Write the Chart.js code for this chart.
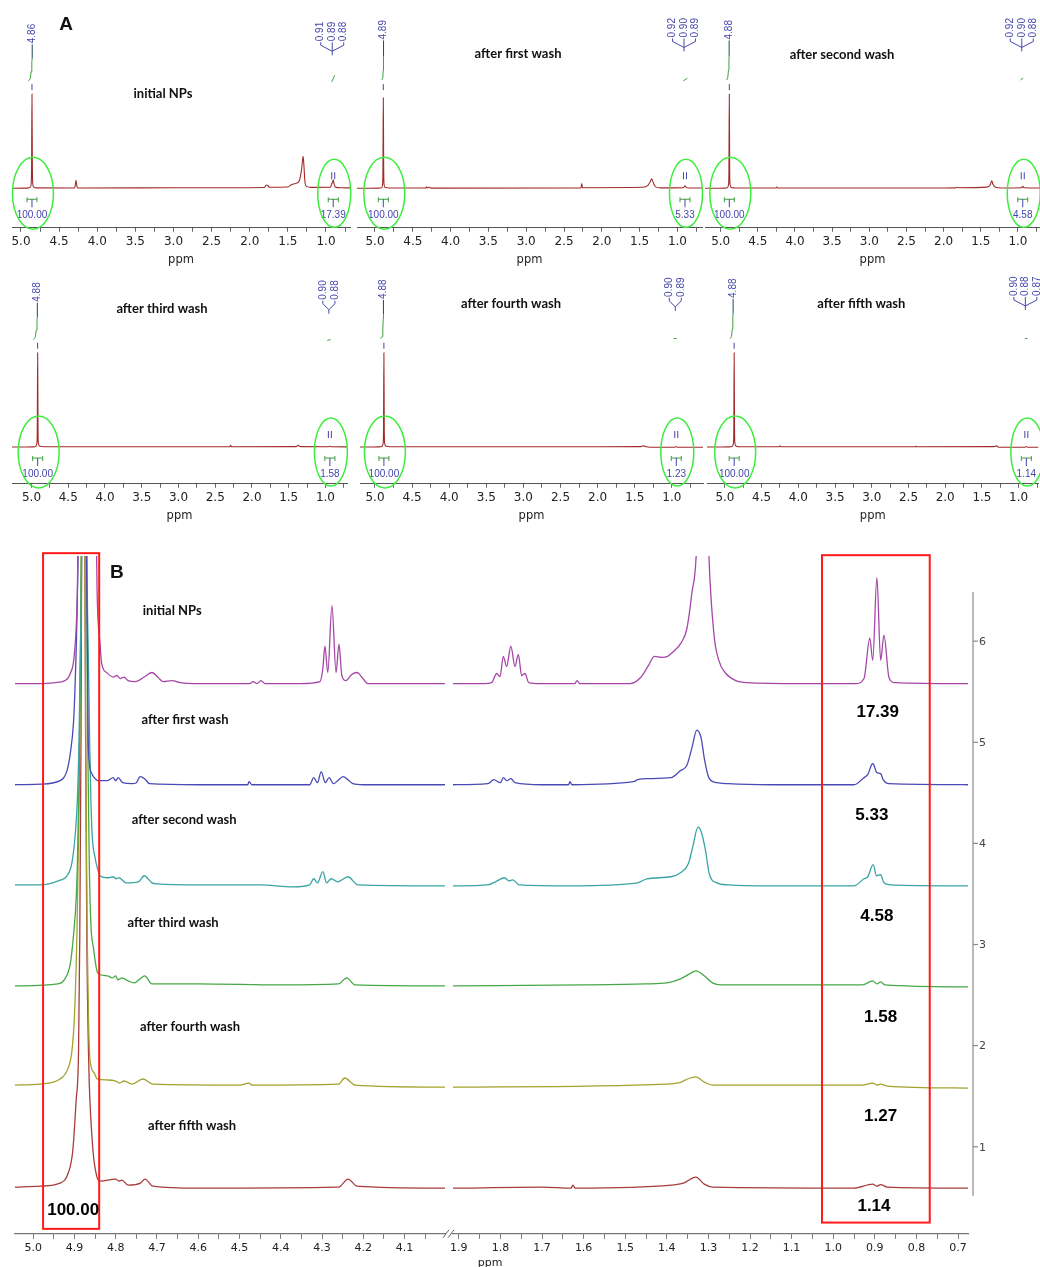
<!DOCTYPE html>
<html lang="en">
<head>
<meta charset="UTF-8">
<title>1H NMR of NPs after washing steps</title>
<script src="https://cdn.jsdelivr.net/npm/chart.js"></script>
<style>
    body { margin: 0; background: #fff; }
    #page { position: relative; width: 1040px; height: 1267px; overflow: hidden; background: #fff; }
    #page canvas { position: absolute; }
</style>
</head>
<body>
<div id="page"></div>
<script>
// ---- labels ----
const washLabels = ['initial NPs', 'after first wash', 'after second wash', 'after third wash', 'after fourth wash', 'after fifth wash'];
const waterShiftLabels = ['4.86', '4.89', '4.88', '4.88', '4.88', '4.88'];
const methylShiftLabels = [['0.91', '0.89', '0.88'], ['0.92', '0.90', '0.89'], ['0.92', '0.90', '0.88'], ['0.90', '0.88'], ['0.90', '0.89'], ['0.90', '0.88', '0.87']];
const waterIntegrals = ['100.00', '100.00', '100.00', '100.00', '100.00', '100.00'];
const methylIntegralsA = ['17.39', '5.33', '4.58', '1.58', '1.23', '1.14'];
const methylIntegralsB = ['17.39', '5.33', '4.58', '1.58', '1.27', '1.14'];

// peak positions in panel A (ppm)
const waterPeakA = [4.856, 4.89, 4.884, 4.916, 4.88, 4.874];
const methylPeakA = [0.905, 0.90, 0.935, 0.94, 0.94, 0.895];

// ticks
const ticksA = [5.0, 4.75, 4.5, 4.25, 4.0, 3.75, 3.5, 3.25, 3.0, 2.75, 2.5, 2.25, 2.0, 1.75, 1.5, 1.25, 1.0, 0.75];
const ticksBL = [5.0, 4.95, 4.9, 4.85, 4.8, 4.75, 4.7, 4.65, 4.6, 4.55, 4.5, 4.45, 4.4, 4.35, 4.3, 4.25, 4.2, 4.15, 4.1, 4.05];
const ticksBR = [1.9, 1.85, 1.8, 1.75, 1.7, 1.65, 1.6, 1.55, 1.5, 1.45, 1.4, 1.35, 1.3, 1.25, 1.2, 1.15, 1.1, 1.05, 1.0, 0.95, 0.9, 0.85, 0.8, 0.75, 0.7];
const yTicksB = [1, 2, 3, 4, 5, 6];

// ---- panel A spectra [ppm, normalised intensity] ----
const specA1 = [[5.118,0],[4.95,0.001],[4.90,0.004],[4.876,0.015],[4.866,0.05],[4.861,0.25],[4.856,1.0],[4.851,0.25],[4.846,0.05],[4.836,0.015],[4.80,0.004],[4.30,0.003],[4.289,0.03],[4.279,0.085],[4.269,0.03],[4.259,0.003],[3.00,0.005],[2.26,0.006],[1.81,0.008],[1.784,0.035],[1.764,0.03],[1.74,0.01],[1.50,0.013],[1.45,0.04],[1.40,0.05],[1.35,0.08],[1.32,0.2],[1.30,0.34],[1.29,0.25],[1.275,0.06],[1.255,0.02],[1.20,0.009],[0.94,0.01],[0.925,0.05],[0.915,0.06],[0.905,0.09],[0.895,0.05],[0.875,0.012],[0.80,0.005],[0.685,0.004]];
const specA2 = [[5.238,0],[4.95,0.001],[4.91,0.005],[4.90,0.04],[4.895,0.2],[4.89,0.96],[4.885,0.2],[4.88,0.04],[4.865,0.008],[4.80,0.003],[4.33,0.003],[4.32,0.015],[4.31,0.004],[4.28,0.01],[4.26,0.002],[2.276,0.004],[2.266,0.05],[2.256,0.006],[1.46,0.01],[1.39,0.03],[1.36,0.07],[1.34,0.1],[1.32,0.06],[1.29,0.015],[1.22,0.004],[0.92,0.006],[0.90,0.025],[0.88,0.006],[0.675,0.002]];
const specA3 = [[5.211,0],[4.95,0.001],[4.915,0.005],[4.894,0.04],[4.889,0.2],[4.884,1.0],[4.879,0.2],[4.874,0.04],[4.855,0.008],[4.80,0.003],[4.256,0.003],[4.246,0.012],[4.236,0.003],[2.00,0.003],[1.84,0.004],[1.82,0.01],[1.78,0.006],[1.42,0.012],[1.37,0.04],[1.353,0.08],[1.335,0.04],[1.30,0.01],[1.22,0.003],[0.955,0.005],[0.935,0.02],[0.915,0.005],[0.703,0.002]];
const specA4 = [[5.265,0],[4.98,0.001],[4.945,0.005],[4.926,0.04],[4.921,0.2],[4.916,1.0],[4.911,0.2],[4.906,0.04],[4.885,0.008],[4.83,0.003],[2.30,0.003],[2.29,0.018],[2.28,0.003],[1.40,0.004],[1.37,0.018],[1.34,0.004],[0.96,0.003],[0.94,0.008],[0.92,0.003],[0.707,0.002]];
const specA5 = [[5.202,0],[4.95,0.001],[4.91,0.005],[4.89,0.04],[4.885,0.2],[4.88,1.0],[4.875,0.2],[4.87,0.04],[4.85,0.008],[4.80,0.003],[2.30,0.003],[1.42,0.004],[1.38,0.012],[1.34,0.002],[1.30,-0.003],[0.96,-0.003],[0.94,0.006],[0.92,-0.003],[0.58,-0.003]];
const specA6 = [[5.244,0],[4.95,0.001],[4.905,0.005],[4.884,0.04],[4.879,0.2],[4.874,1.0],[4.869,0.2],[4.864,0.04],[4.845,0.008],[4.80,0.003],[4.26,0.003],[4.25,0.012],[4.24,0.003],[2.41,0.003],[2.40,0.008],[2.39,0.003],[1.34,0.004],[1.30,0.012],[1.27,-0.003],[0.915,-0.003],[0.895,0.006],[0.875,-0.003],[0.729,-0.003]];

// integral curves, water peak and methyl peak
const intA1L = [[4.905,1.14],[4.88,1.16],[4.866,1.24],[4.858,1.34],[4.853,1.38],[4.853,1.53]];
const intA1R = [[0.925,1.13],[0.885,1.2]];
const intA2L = [[4.912,1.15],[4.897,1.17],[4.892,1.25],[4.889,1.36],[4.887,1.4],[4.887,1.57]];
const intA2R = [[0.922,1.14],[0.87,1.17]];
const intA3L = [[4.92,1.15],[4.905,1.17],[4.896,1.25],[4.889,1.36],[4.886,1.4],[4.886,1.57]];
const intA3R = [[0.965,1.15],[0.93,1.17]];
const intA4L = [[4.976,1.14],[4.95,1.16],[4.935,1.24],[4.925,1.34],[4.92,1.38],[4.92,1.53]];
const intA4R = [[0.975,1.13],[0.93,1.14]];
const intA5L = [[4.925,1.15],[4.905,1.17],[4.895,1.25],[4.889,1.36],[4.886,1.41],[4.886,1.56]];
const intA5R = [[0.975,1.15],[0.935,1.15]];
const intA6L = [[4.932,1.15],[4.91,1.17],[4.9,1.25],[4.892,1.38],[4.888,1.42],[4.888,1.57]];
const intA6R = [[0.915,1.15],[0.88,1.15]];

// ---- panel B spectra [ppm, intensity above own baseline] ----
const stackOffsets = [5.58, 4.58, 3.58, 2.59, 1.59, 0.59];
const bInitialL = [[5.044,0],[4.983,0],[4.947,0.01],[4.923,0.03],[4.91,0.1],[4.90,0.3],[4.893,0.9],[4.891,1.5],[4.868,8],[4.847,1.5],[4.845,0.9],[4.838,0.4],[4.834,0.2],[4.822,0.11],[4.806,0.065],[4.797,0.08],[4.789,0.05],[4.78,0.065],[4.77,0.03],[4.753,0.02],[4.729,0.07],[4.712,0.11],[4.697,0.06],[4.685,0.02],[4.663,0.03],[4.644,0.01],[4.596,0],[4.475,0],[4.467,0.02],[4.458,0],[4.448,0.03],[4.438,0],[4.353,0],[4.305,0.02],[4.298,0.15],[4.293,0.37],[4.286,0.11],[4.276,0.77],[4.266,0.11],[4.259,0.39],[4.252,0.08],[4.242,0.03],[4.228,0.09],[4.215,0.11],[4.201,0.05],[4.189,0],[4.111,0],[4.002,0]];
const bInitialR = [[1.914,0],[1.838,0],[1.821,0.01],[1.809,0.1],[1.801,0.07],[1.793,0.27],[1.785,0.17],[1.775,0.37],[1.765,0.17],[1.757,0.29],[1.749,0.08],[1.741,0.1],[1.732,0.01],[1.705,0],[1.621,0],[1.616,0.03],[1.609,0],[1.489,0],[1.463,0.06],[1.444,0.18],[1.43,0.27],[1.412,0.26],[1.398,0.27],[1.386,0.31],[1.366,0.4],[1.352,0.54],[1.34,0.89],[1.328,1.4],[1.314,4],[1.30,1.4],[1.287,0.5],[1.275,0.23],[1.258,0.1],[1.234,0.03],[1.208,0.01],[1.08,0],[0.946,0],[0.926,0.05],[0.912,0.45],[0.905,0.23],[0.895,1.05],[0.886,0.23],[0.878,0.48],[0.866,0.06],[0.853,0.01],[0.676,0]];
const bWash1L = [[5.044,0],[4.983,0.005],[4.935,0.04],[4.918,0.14],[4.91,0.31],[4.902,0.63],[4.898,1.03],[4.893,1.82],[4.889,3],[4.88,10],[4.872,3],[4.869,1.5],[4.867,0.6],[4.866,0.34],[4.858,0.11],[4.85,0.06],[4.843,0.04],[4.821,0.04],[4.806,0.07],[4.80,0.04],[4.794,0.07],[4.783,0.02],[4.76,0.01],[4.75,0.02],[4.741,0.08],[4.73,0.06],[4.718,0.01],[4.60,0],[4.48,0],[4.477,0.03],[4.47,0],[4.33,0],[4.32,0.07],[4.311,0.02],[4.302,0.13],[4.292,0.02],[4.283,0.07],[4.272,0.01],[4.262,0.04],[4.249,0.08],[4.237,0.05],[4.225,0.01],[4.20,0],[4.002,0]];
const bWash1R = [[1.914,0],[1.83,0.01],[1.816,0.05],[1.80,0.02],[1.793,0.07],[1.785,0.04],[1.775,0.06],[1.765,0.02],[1.70,0],[1.636,0],[1.633,0.03],[1.628,0],[1.48,0.03],[1.47,0.05],[1.448,0.06],[1.39,0.07],[1.367,0.14],[1.352,0.19],[1.34,0.36],[1.328,0.54],[1.318,0.47],[1.309,0.24],[1.299,0.07],[1.28,0.02],[1.253,0.01],[1.15,0],[0.95,0],[0.926,0.07],[0.917,0.1],[0.905,0.21],[0.895,0.12],[0.886,0.11],[0.88,0.05],[0.866,0.01],[0.676,0]];
const bWash2L = [[5.044,0.01],[4.983,0.01],[4.939,0.05],[4.918,0.1],[4.906,0.23],[4.898,0.51],[4.893,0.84],[4.889,1.4],[4.886,2.2],[4.882,3.5],[4.876,10],[4.87,3.5],[4.866,2.2],[4.863,1.4],[4.86,0.84],[4.857,0.5],[4.85,0.28],[4.844,0.17],[4.838,0.1],[4.82,0.08],[4.806,0.09],[4.799,0.07],[4.792,0.08],[4.775,0.03],[4.745,0.04],[4.731,0.1],[4.712,0.03],[4.70,0.02],[4.60,0.01],[4.45,0.01],[4.37,-0.01],[4.33,0.01],[4.32,0.07],[4.311,0.03],[4.298,0.14],[4.289,0.03],[4.278,0.07],[4.262,0.04],[4.237,0.09],[4.213,0.01],[4.002,0]];
const bWash2R = [[1.914,0],[1.83,0.01],[1.812,0.04],[1.79,0.08],[1.78,0.05],[1.77,0.06],[1.755,0.01],[1.63,0],[1.47,0.03],[1.448,0.07],[1.39,0.09],[1.367,0.13],[1.348,0.22],[1.338,0.38],[1.325,0.58],[1.317,0.53],[1.307,0.35],[1.298,0.12],[1.28,0.03],[1.253,0.01],[1.15,0],[0.95,0],[0.926,0.07],[0.917,0.09],[0.904,0.21],[0.896,0.1],[0.886,0.11],[0.878,0.03],[0.864,0.01],[0.676,0]];
const bWash3L = [[5.044,0],[4.94,0.02],[4.923,0.07],[4.91,0.22],[4.902,0.51],[4.896,0.84],[4.893,1.17],[4.889,2.0],[4.886,3.0],[4.882,5.0],[4.877,10],[4.872,5.0],[4.868,2.5],[4.864,1.2],[4.86,0.6],[4.854,0.38],[4.847,0.18],[4.842,0.12],[4.82,0.1],[4.808,0.08],[4.80,0.1],[4.795,0.06],[4.785,0.08],[4.77,0.05],[4.755,0.03],[4.741,0.07],[4.73,0.1],[4.712,0.02],[4.60,0.02],[4.40,0.01],[4.26,0.02],[4.24,0.08],[4.22,0.01],[4.002,0]];
const bWash3R = [[1.914,0],[1.60,0.01],[1.45,0.02],[1.40,0.03],[1.367,0.07],[1.345,0.12],[1.33,0.15],[1.31,0.1],[1.29,0.03],[1.27,0.01],[0.93,0.01],[0.905,0.05],[0.895,0.02],[0.886,0.04],[0.875,0.01],[0.676,-0.01]];
const bWash4L = [[5.044,0.02],[4.983,0.03],[4.935,0.08],[4.915,0.19],[4.906,0.36],[4.90,0.7],[4.894,1.5],[4.888,3],[4.882,6],[4.878,10],[4.875,6],[4.872,3],[4.869,1.5],[4.866,0.7],[4.862,0.26],[4.852,0.14],[4.845,0.08],[4.82,0.07],[4.80,0.06],[4.79,0.04],[4.78,0.06],[4.76,0.03],[4.734,0.08],[4.71,0.03],[4.50,0.02],[4.477,0.04],[4.47,0.02],[4.26,0.03],[4.245,0.09],[4.22,0.02],[4.002,0]];
const bWash4R = [[1.914,0],[1.40,0.03],[1.365,0.05],[1.35,0.08],[1.33,0.1],[1.31,0.05],[1.29,0.02],[0.93,0.02],[0.905,0.04],[0.895,0.02],[0.886,0.03],[0.87,0.01],[0.676,-0.01]];
const bWash5L = [[5.044,0.01],[4.983,0.02],[4.935,0.05],[4.915,0.15],[4.904,0.37],[4.896,0.86],[4.89,1.36],[4.887,2.5],[4.884,4.5],[4.879,10],[4.873,4.5],[4.87,2.5],[4.866,1.36],[4.864,1.03],[4.855,0.37],[4.846,0.12],[4.838,0.07],[4.80,0.09],[4.792,0.07],[4.785,0.08],[4.77,0.03],[4.74,0.05],[4.729,0.09],[4.71,0.02],[4.60,0],[4.26,0.01],[4.237,0.09],[4.215,0.02],[4.002,0]];
const bWash5R = [[1.914,0],[1.70,0.01],[1.63,0],[1.626,0.03],[1.62,0],[1.39,0.03],[1.36,0.05],[1.33,0.11],[1.31,0.04],[1.29,0.01],[0.95,0],[0.905,0.04],[0.895,0.02],[0.886,0.035],[0.87,0.01],[0.676,0]];

// ---- styling / layout ----
Chart.defaults.font.family = "'DejaVu Sans', sans-serif";
Chart.defaults.animation = false;
const blueTxt = '#4545aa', intGreen = '#3f9f3f', intDark = '#1f4a5a', ring = '#3ded3d', specRed = '#a32a2a';
const colorsB = ['#a646a8', '#4a4ab4', '#3aa3a3', '#46a846', '#a2a22c', '#a83c3c'];

const specsA = [specA1, specA2, specA3, specA4, specA5, specA6];
const intsL = [intA1L, intA2L, intA3L, intA4L, intA5L, intA6L];
const intsR = [intA1R, intA2R, intA3R, intA4R, intA5R, intA6R];
const bLeft = [bInitialL, bWash1L, bWash2L, bWash3L, bWash4L, bWash5L];
const bRight = [bInitialR, bWash1R, bWash2R, bWash3R, bWash4R, bWash5R];

// canvas box [left, top, width, height], padding [left, right], x range [min, max], y range, title [ppm, y]
const panelA = [
    { box: [0, 0, 360, 269], pad: [12, 10], x: [0.685, 5.118], y: [-0.42, 2.0], title: [3.138, 94], letter: 'A' },
    { box: [350, 0, 355, 269], pad: [7, 3], x: [0.675, 5.238], y: [-0.42, 2.0], title: [3.108, 54] },
    { box: [700, 0, 340, 269], pad: [5, 0], x: [0.703, 5.211], y: [-0.42, 2.0], title: [3.367, 55] },
    { box: [0, 265, 360, 260], pad: [12, 13], x: [0.707, 5.265], y: [-0.39, 1.93], title: [3.224, 44] },
    { box: [350, 265, 355, 260], pad: [10, 2], x: [0.58, 5.202], y: [-0.39, 1.93], title: [3.167, 39] },
    { box: [700, 265, 340, 260], pad: [7, 0], x: [0.729, 5.244], y: [-0.39, 1.93], title: [3.142, 39] }
];
const labelSpotsB = [[4.663, 6.297], [4.632, 5.218], [4.634, 4.238], [4.661, 3.218], [4.620, 2.188], [4.615, 1.208]];
const numberSpotsB = [[0.893, 5.297], [0.907, 4.277], [0.895, 3.277], [0.886, 2.277], [0.886, 1.297], [0.902, 0.406]];

const page = document.getElementById('page');

function makeCanvas([l, t, w, h]) {
    const c = document.createElement('canvas');
    c.width = w; c.height = h;
    c.style.left = l + 'px'; c.style.top = t + 'px';
    c.style.width = w + 'px'; c.style.height = h + 'px';
    page.appendChild(c);
    return c;
}

function pts(arr, off) {
    return arr.map(([x, y]) => ({ x: x, y: y + (off || 0) }));
}

function xScale(range, list, step, withTitle, fontSize) {
    return {
        type: 'linear', reverse: true, min: range[0], max: range[1],
        afterBuildTicks: s => { s.ticks = list.map(v => ({ value: v })); },
        grid: { drawOnChartArea: false, drawTicks: true, tickLength: 4, color: '#666' },
        border: { color: '#555', width: 1 },
        ticks: {
            autoSkip: false, maxRotation: 0, padding: 3, color: '#222', font: { size: fontSize },
            callback: v => Math.abs(v / step - Math.round(v / step)) < 1e-6 ? v.toFixed(1) : ''
        },
        title: { display: withTitle, text: 'ppm', color: '#222', font: { size: 11.5 }, padding: { top: 1, bottom: 0 } }
    };
}

function vtext(ctx, t, x, y) {
    ctx.save();
    ctx.translate(x, y);
    ctx.rotate(-Math.PI / 2);
    ctx.textAlign = 'left';
    ctx.textBaseline = 'middle';
    ctx.fillText(t, 0, 0);
    ctx.restore();
}

function annotA(i, cfg) {
    return {
        id: 'annotA',
        afterDatasetsDraw(chart) {
            const { ctx, scales: { x, y } } = chart;
            const base = y.getPixelForValue(0);
            const xw = x.getPixelForValue(waterPeakA[i]);
            const xm = x.getPixelForValue(methylPeakA[i]);
            const topPt = intsL[i][intsL[i].length - 1];
            const xl = x.getPixelForValue(topPt[0]);
            const yl = y.getPixelForValue(topPt[1]) - 1;
            ctx.save();
            ctx.textAlign = 'center';
            ctx.textBaseline = 'middle';
            ctx.fillStyle = '#111';
            ctx.font = 'bold 13px Lato';
            ctx.fillText(washLabels[i], x.getPixelForValue(cfg.title[0]), cfg.title[1]);
            if (cfg.letter) {
                ctx.font = "bold 19px 'Liberation Sans'";
                ctx.fillText(cfg.letter, 66, 25);
            }
            // shift labels
            ctx.fillStyle = blueTxt;
            ctx.strokeStyle = blueTxt;
            ctx.lineWidth = 1;
            ctx.font = "10px 'Liberation Sans'";
            vtext(ctx, waterShiftLabels[i], xl, yl);
            const m = methylShiftLabels[i];
            const spread = m.length === 3 ? 11.5 : 12;
            const cx = xm - 1;
            m.forEach((t, k) => {
                const lx = cx + (k - (m.length - 1) / 2) * spread;
                vtext(ctx, t, lx, yl - 2);
                ctx.beginPath();
                ctx.moveTo(lx, yl - 1); ctx.lineTo(lx, yl + 2); ctx.lineTo(cx, yl + 8);
                ctx.stroke();
            });
            ctx.beginPath(); ctx.moveTo(cx, yl + 8); ctx.lineTo(cx, yl + 12); ctx.stroke();
            // peak pick marks
            const pTop = y.getPixelForValue(1);
            ctx.beginPath(); ctx.moveTo(xw, pTop - 10); ctx.lineTo(xw, pTop - 4); ctx.stroke();
            [-1.5, 1.5].forEach(d => {
                ctx.beginPath(); ctx.moveTo(xm + d, base - 16); ctx.lineTo(xm + d, base - 9); ctx.stroke();
            });
            // integration brackets and values
            [[xw, waterIntegrals[i]], [xm, methylIntegralsA[i]]].forEach(([xc, val]) => {
                const y0 = base + 11;
                ctx.strokeStyle = intGreen;
                ctx.beginPath();
                ctx.moveTo(xc - 5, y0); ctx.lineTo(xc + 5, y0);
                ctx.moveTo(xc - 5, y0 - 2); ctx.lineTo(xc - 5, y0 + 3);
                ctx.moveTo(xc + 5, y0 - 2); ctx.lineTo(xc + 5, y0 + 3);
                ctx.stroke();
                ctx.strokeStyle = blueTxt;
                ctx.beginPath(); ctx.moveTo(xc, y0); ctx.lineTo(xc, y0 + 8); ctx.stroke();
                ctx.fillStyle = blueTxt;
                ctx.fillText(val, xc, base + 27);
            });
            // green rings
            ctx.strokeStyle = ring;
            ctx.lineWidth = 1.5;
            ctx.beginPath(); ctx.ellipse(xw + 1, base + 5, 20.5, 36, 0, 0, Math.PI * 2); ctx.stroke();
            ctx.beginPath(); ctx.ellipse(xm + 1, base + 5, 16.5, 34, 0, 0, Math.PI * 2); ctx.stroke();
            ctx.restore();
        }
    };
}

panelA.forEach((cfg, i) => {
    const canvas = makeCanvas(cfg.box);
    const segColor = s => s.p1DataIndex === intsL[i].length - 1 ? intDark : intGreen;
    new Chart(canvas, {
        type: 'line',
        data: {
            datasets: [
                { data: pts(specsA[i]), borderColor: specRed, borderWidth: 1.1, cubicInterpolationMode: 'monotone' },
                { data: pts(intsL[i]), borderColor: intGreen, borderWidth: 1, segment: { borderColor: segColor } },
                { data: pts(intsR[i]), borderColor: intGreen, borderWidth: 1 }
            ]
        },
        options: {
            responsive: false, devicePixelRatio: 1, parsing: false,
            elements: { point: { radius: 0 }, line: { tension: 0 } },
            layout: { padding: { left: cfg.pad[0], right: cfg.pad[1], top: 0, bottom: 2 } },
            plugins: { legend: { display: false }, tooltip: { enabled: false } },
            scales: {
                x: xScale(cfg.x, ticksA, 0.5, true, 12),
                y: { display: false, min: cfg.y[0], max: cfg.y[1] }
            }
        },
        plugins: [annotA(i, cfg)]
    });
});

// ---- panel B ----
const yRangeB = [0.139, 6.842];

function datasetsB(parts) {
    return parts.map((arr, i) => ({
        data: pts(arr, stackOffsets[i]), borderColor: colorsB[i], borderWidth: 1.3,
        cubicInterpolationMode: 'monotone'
    }));
}

const plugBL = {
    id: 'bLeft',
    afterDatasetsDraw(chart) {
        const { ctx, scales: { x, y } } = chart;
        ctx.save();
        ctx.textAlign = 'center';
        ctx.textBaseline = 'middle';
        ctx.fillStyle = '#111';
        ctx.font = 'bold 13px Lato';
        washLabels.forEach((t, i) => ctx.fillText(t, x.getPixelForValue(labelSpotsB[i][0]), y.getPixelForValue(labelSpotsB[i][1])));
        ctx.font = "bold 19px 'Liberation Sans'";
        ctx.fillText('B', x.getPixelForValue(4.797), y.getPixelForValue(6.68));
        const x0 = x.getPixelForValue(4.976), x1 = x.getPixelForValue(4.840);
        const y0 = y.getPixelForValue(6.87), y1 = y.getPixelForValue(0.188);
        ctx.strokeStyle = '#ff1a1a';
        ctx.lineWidth = 2;
        ctx.strokeRect(x0, y0, x1 - x0, y1 - y0);
        ctx.fillStyle = '#000';
        ctx.font = "bold 17px 'Liberation Sans'";
        ctx.fillText(waterIntegrals[5], x.getPixelForValue(4.903), y.getPixelForValue(0.37));
        ctx.restore();
    }
};

const plugBR = {
    id: 'bRight',
    afterDatasetsDraw(chart) {
        const { ctx, chartArea, scales: { x, y } } = chart;
        ctx.save();
        // red frame + integral values
        const x0 = x.getPixelForValue(1.027), x1 = x.getPixelForValue(0.768);
        const y0 = y.getPixelForValue(6.85), y1 = y.getPixelForValue(0.25);
        ctx.strokeStyle = '#ff1a1a';
        ctx.lineWidth = 2;
        ctx.strokeRect(x0, y0, x1 - x0, y1 - y0);
        ctx.textAlign = 'center';
        ctx.textBaseline = 'middle';
        ctx.fillStyle = '#000';
        ctx.font = "bold 17px 'Liberation Sans'";
        methylIntegralsB.forEach((t, i) => ctx.fillText(t, x.getPixelForValue(numberSpotsB[i][0]), y.getPixelForValue(numberSpotsB[i][1])));
        // right intensity axis
        const xr = chartArea.right + 5;
        ctx.strokeStyle = '#8a8a8a';
        ctx.lineWidth = 1.2;
        ctx.beginPath();
        ctx.moveTo(xr, y.getPixelForValue(6.485));
        ctx.lineTo(xr, y.getPixelForValue(0.515));
        ctx.stroke();
        ctx.font = '11px DejaVu Sans';
        ctx.fillStyle = '#444';
        ctx.textAlign = 'left';
        yTicksB.forEach(v => {
            const py = y.getPixelForValue(v);
            ctx.beginPath(); ctx.moveTo(xr, py); ctx.lineTo(xr + 5, py); ctx.stroke();
            ctx.fillText(String(v), xr + 6, py + 1);
        });
        // axis break marks and unit
        ctx.strokeStyle = '#666';
        ctx.lineWidth = 1;
        const yb = chartArea.bottom;
        [chartArea.left - 7, chartArea.left - 2].forEach(bx => {
            ctx.beginPath(); ctx.moveTo(bx - 3, yb + 4); ctx.lineTo(bx + 3, yb - 4); ctx.stroke();
        });
        ctx.textAlign = 'center';
        ctx.fillStyle = '#222';
        ctx.fillText('ppm', x.getPixelForValue(1.825), yb + 29);
        ctx.restore();
    }
};

function optionsB(range, list, pad) {
    return {
        responsive: false, devicePixelRatio: 1, parsing: false,
        elements: { point: { radius: 0 }, line: { tension: 0 } },
        layout: { padding: { left: pad[0], right: pad[1], top: 16, bottom: 9 } },
        plugins: { legend: { display: false }, tooltip: { enabled: false } },
        scales: {
            x: Object.assign(xScale(range, list, 0.1, false, 11), {
                grid: { drawOnChartArea: false, drawTicks: true, tickLength: 5, color: '#777' },
                border: { color: '#777', width: 1.2 }
            }),
            y: { display: false, min: yRangeB[0], max: yRangeB[1] }
        }
    };
}

new Chart(makeCanvas([0, 540, 447, 727]), {
    type: 'line',
    data: { datasets: datasetsB(bLeft) },
    options: optionsB([4.002, 5.044], ticksBL, [15, 2]),
    plugins: [plugBL]
});

new Chart(makeCanvas([440, 540, 600, 727]), {
    type: 'line',
    data: { datasets: datasetsB(bRight) },
    options: optionsB([0.676, 1.914], ticksBR, [13, 72]),
    plugins: [plugBR]
});
</script>
</body>
</html>
